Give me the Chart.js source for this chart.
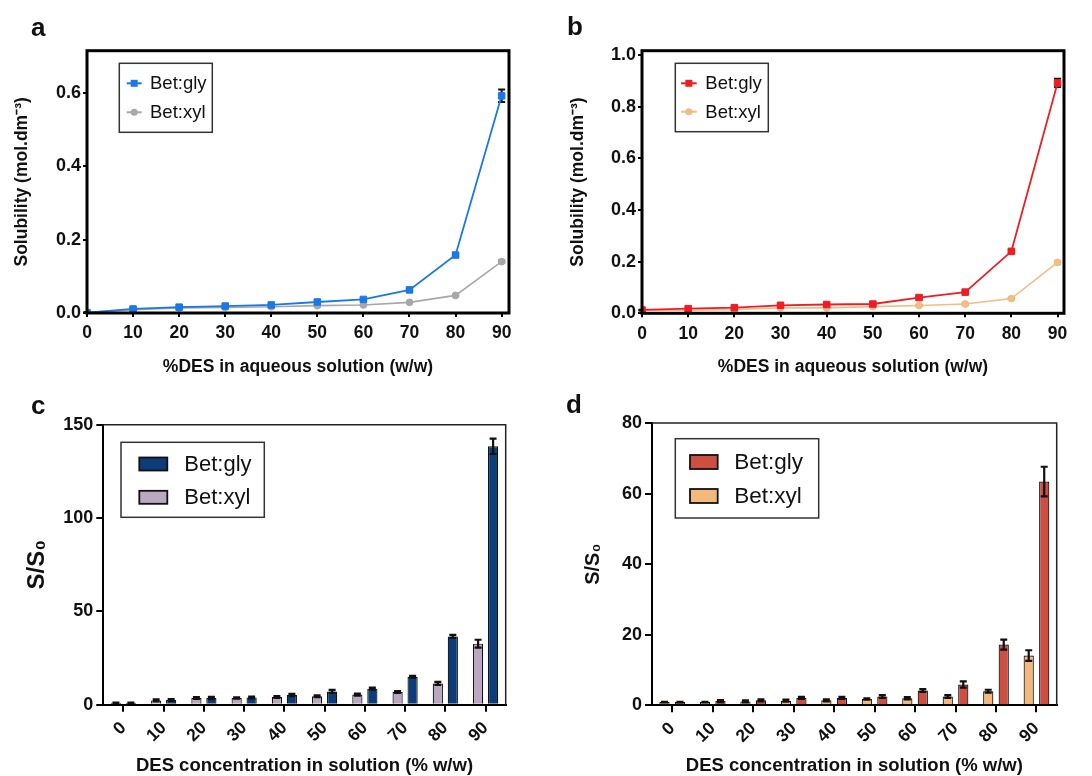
<!DOCTYPE html>
<html>
<head>
<meta charset="utf-8">
<script src="https://cdn.jsdelivr.net/npm/chart.js@4.4.1/dist/chart.umd.min.js"></script>
<style>
  html,body{margin:0;padding:0;background:#fff;}
  #wrap{position:relative;width:1092px;height:776px;overflow:hidden;background:#fff;}
  canvas{position:absolute;}
  .lbl{position:absolute;font-family:'Liberation Sans',Arial,sans-serif;font-weight:bold;font-size:26px;color:#111;line-height:1;}
</style>
</head>
<body>
<div id="wrap">
  <canvas id="ca" width="546" height="388" style="left:0;top:0"></canvas>
  <canvas id="cb" width="546" height="388" style="left:546px;top:0"></canvas>
  <canvas id="cc" width="546" height="388" style="left:0;top:388px"></canvas>
  <canvas id="cd" width="546" height="388" style="left:546px;top:388px"></canvas>
  <div class="lbl" style="left:31px;top:14px">a</div>
  <div class="lbl" style="left:567px;top:13px">b</div>
  <div class="lbl" style="left:31px;top:392px">c</div>
  <div class="lbl" style="left:566px;top:391px">d</div>
</div>
<script>
// ---------------- DATA ----------------
const desPct = [0, 10, 20, 30, 40, 50, 60, 70, 80, 90];
const catLabels = ['0', '10', '20', '30', '40', '50', '60', '70', '80', '90'];
const seriesNames = ['Bet:gly', 'Bet:xyl'];

// Panel a : solubility (mol.dm-3)
const solGlyA    = [0.001, 0.011, 0.016, 0.019, 0.022, 0.030, 0.037, 0.063, 0.158, 0.592];
const solGlyAErr = [0.001, 0.001, 0.001, 0.001, 0.001, 0.001, 0.002, 0.003, 0.004, 0.017];
const solXylA    = [0.001, 0.009, 0.014, 0.015, 0.017, 0.020, 0.022, 0.029, 0.048, 0.140];
const solXylAErr = [0.001, 0.001, 0.001, 0.001, 0.001, 0.001, 0.001, 0.001, 0.002, 0.003];
const yTicksA = [0, 0.2, 0.4, 0.6];

// Panel b : solubility (mol.dm-3)
const solGlyB    = [0.013, 0.018, 0.022, 0.031, 0.034, 0.036, 0.061, 0.082, 0.240, 0.892];
const solGlyBErr = [0.001, 0.001, 0.001, 0.002, 0.002, 0.002, 0.003, 0.003, 0.005, 0.016];
const solXylB    = [0.012, 0.012, 0.015, 0.021, 0.021, 0.026, 0.030, 0.036, 0.057, 0.197];
const solXylBErr = [0.001, 0.001, 0.001, 0.001, 0.001, 0.001, 0.001, 0.002, 0.002, 0.004];
const yTicksB = [0, 0.2, 0.4, 0.6, 0.8, 1.0];
const xTicksLine = [0, 10, 20, 30, 40, 50, 60, 70, 80, 90];

// Panel c : S/S0
const ratioXylC    = [1.0, 2.3, 3.6, 3.6, 4.1, 4.5, 5.4, 6.8, 11.4, 32.7];
const ratioXylCErr = [0.1, 0.5, 0.5, 0.4, 0.5, 0.5, 0.5, 0.5, 0.8, 2.1];
const ratioGlyC    = [1.0, 2.5, 3.6, 3.9, 5.2, 7.1, 8.6, 15.0, 36.6, 138.4];
const ratioGlyCErr = [0.1, 0.5, 0.6, 0.5, 0.6, 0.8, 0.6, 0.5, 0.8, 4.1];
const yTicksC = [0, 50, 100, 150];

// Panel d : S/S0
const ratioXylD    = [0.9, 0.9, 1.1, 1.3, 1.4, 1.8, 2.0, 2.5, 4.0, 14.1];
const ratioXylDErr = [0.05, 0.05, 0.3, 0.3, 0.3, 0.2, 0.3, 0.4, 0.4, 1.5];
const ratioGlyD    = [0.9, 1.2, 1.4, 2.1, 2.1, 2.5, 4.2, 5.9, 17.2, 63.4];
const ratioGlyDErr = [0.05, 0.3, 0.3, 0.3, 0.3, 0.4, 0.4, 0.9, 1.4, 4.2];
const yTicksD = [0, 20, 40, 60, 80];

// ---------------- PLUGINS ----------------
const FONT = "'Liberation Sans', Arial, Helvetica, sans-serif";
Chart.defaults.font.family = FONT;
Chart.defaults.color = '#111';

function drawErrors(chart, o) {
  const ctx = chart.ctx;
  const ys = chart.scales.y;
  ctx.save();
  ctx.strokeStyle = o.color || '#111';
  ctx.lineWidth = o.width || 2;
  chart.data.datasets.forEach((ds, i) => {
    if (!ds.errors) return;
    const meta = chart.getDatasetMeta(i);
    meta.data.forEach((el, j) => {
      const raw = ds.data[j];
      const v = (typeof raw === 'object') ? raw.y : raw;
      const e = ds.errors[j];
      if (!e) return;
      const x = el.x;
      const y1 = ys.getPixelForValue(v + e);
      const y2 = ys.getPixelForValue(v - e);
      const c = o.cap || 3.5;
      ctx.beginPath();
      ctx.moveTo(x, y1); ctx.lineTo(x, y2);
      ctx.moveTo(x - c, y1); ctx.lineTo(x + c, y1);
      ctx.moveTo(x - c, y2); ctx.lineTo(x + c, y2);
      ctx.stroke();
    });
  });
  ctx.restore();
}
const errorBars = {
  id: 'errorBars',
  beforeDatasetsDraw(chart, a, o) { if (o.phase === 'before') drawErrors(chart, o); },
  afterDatasetsDraw(chart, a, o) { if (o.phase === 'after') drawErrors(chart, o); }
};

const frame = {
  id: 'frame',
  afterDatasetsDraw(chart, a, o) {
    const {left, right, top, bottom} = chart.chartArea;
    const ctx = chart.ctx;
    ctx.save();
    ctx.strokeStyle = o.color || '#000';
    ctx.lineWidth = o.width;
    if (o.full) {
      ctx.strokeRect(left, top, right - left, bottom - top);
    } else {
      ctx.beginPath();
      ctx.moveTo(left, top); ctx.lineTo(right, top); ctx.lineTo(right, bottom);
      ctx.stroke();
    }
    ctx.restore();
  }
};

const boxLegend = {
  id: 'boxLegend',
  afterDraw(chart, a, o) {
    const ctx = chart.ctx;
    ctx.save();
    ctx.fillStyle = '#fff';
    ctx.fillRect(o.x, o.y, o.w, o.h);
    ctx.lineWidth = 1.5;
    ctx.strokeStyle = '#333';
    ctx.strokeRect(o.x, o.y, o.w, o.h);
    o.items.forEach(it => {
      const ds = chart.data.datasets[it.ds];
      if (o.kind === 'line') {
        ctx.strokeStyle = ds.borderColor;
        ctx.lineWidth = 2;
        ctx.beginPath();
        ctx.moveTo(o.sx0, it.y); ctx.lineTo(o.sx1, it.y);
        ctx.stroke();
        const cx = (o.sx0 + o.sx1) / 2;
        ctx.fillStyle = ds.pointBackgroundColor;
        if (ds.pointStyle === 'rect') {
          ctx.fillRect(cx - 3.5, it.y - 3.5, 7, 7);
        } else {
          ctx.beginPath(); ctx.arc(cx, it.y, 3.5, 0, Math.PI * 2); ctx.fill();
        }
      } else {
        ctx.fillStyle = ds.backgroundColor;
        ctx.fillRect(o.sx0, it.y - o.sh / 2, o.sx1 - o.sx0, o.sh);
        ctx.strokeStyle = '#111';
        ctx.lineWidth = 1.8;
        ctx.strokeRect(o.sx0, it.y - o.sh / 2, o.sx1 - o.sx0, o.sh);
      }
      ctx.fillStyle = '#111';
      ctx.font = o.fontSize + 'px ' + FONT;
      ctx.textBaseline = 'middle';
      ctx.textAlign = 'left';
      ctx.fillText(ds.label, o.tx, it.y + 1);
    });
    ctx.restore();
  }
};
Chart.register(errorBars, frame, boxLegend);

// ---------------- BUILDERS ----------------
function lineChart(id, cfg) {
  const pts = arr => desPct.map((x, i) => ({x: x, y: arr[i]}));
  return new Chart(document.getElementById(id), {
    type: 'line',
    data: {
      datasets: [
        {label: seriesNames[0], data: pts(cfg.gly), errors: cfg.glyErr, borderColor: cfg.c1,
         pointBackgroundColor: cfg.c1, pointBorderColor: cfg.c1, backgroundColor: cfg.c1,
         pointStyle: 'rect', pointRadius: 4.6, borderWidth: 1.8, pointBorderWidth: 1, tension: 0},
        {label: seriesNames[1], data: pts(cfg.xyl), errors: cfg.xylErr, borderColor: cfg.c2,
         pointBackgroundColor: cfg.c2, pointBorderColor: cfg.c2, backgroundColor: cfg.c2,
         pointStyle: 'circle', pointRadius: 3.4, borderWidth: 1.6, pointBorderWidth: 1, tension: 0}
      ]
    },
    options: {
      responsive: false, animation: false, devicePixelRatio: 1,
      layout: {padding: {left: 0, top: cfg.top, right: cfg.right, bottom: 0}},
      plugins: {
        legend: {display: false}, tooltip: {enabled: false},
        errorBars: {phase: 'before', cap: 3.5, width: 2},
        frame: {full: true, width: 3, color: '#000'},
        boxLegend: cfg.legend
      },
      scales: {
        x: {
          type: 'linear', min: 0, max: cfg.xmax,
          afterBuildTicks: s => { s.ticks = xTicksLine.map(v => ({value: v})); },
          afterFit: s => { s.height = cfg.xh; },
          grid: {drawOnChartArea: false, drawTicks: true, tickLength: 4, color: '#000', lineWidth: 2},
          border: {display: false},
          ticks: {font: {size: 17.5, weight: 'bold'}, color: '#111', padding: 6, maxRotation: 0},
          title: {display: true, text: '%DES in aqueous solution (w/w)', font: {size: 17.5, weight: 'bold'},
                  color: '#111', padding: {top: 10, bottom: 10}}
        },
        y: {
          min: 0, max: cfg.ymax,
          afterBuildTicks: s => { s.ticks = cfg.yTicks.map(v => ({value: v})); },
          afterFit: s => { s.width = cfg.yw; },
          grid: {drawOnChartArea: false, drawTicks: true, tickLength: 4, color: '#000', lineWidth: 2},
          border: {display: false},
          ticks: {font: {size: 18, weight: 'bold'}, color: '#111', padding: 2, callback: v => Number(v).toFixed(1)},
          title: {display: true, text: 'Solubility (mol.dm\u207B\u00B3)', font: {size: 17.5, weight: 'bold'},
                  color: '#111', padding: {top: cfg.ytp, bottom: 0}}
        }
      }
    }
  });
}

function barChart(id, cfg) {
  return new Chart(document.getElementById(id), {
    type: 'bar',
    data: {
      labels: catLabels,
      datasets: [
        {label: seriesNames[1], data: cfg.xyl, errors: cfg.xylErr, backgroundColor: cfg.c2,
         borderColor: '#111', borderWidth: 1.2, categoryPercentage: cfg.cp, barPercentage: cfg.bp},
        {label: seriesNames[0], data: cfg.gly, errors: cfg.glyErr, backgroundColor: cfg.c1,
         borderColor: '#111', borderWidth: 1.2, categoryPercentage: cfg.cp, barPercentage: cfg.bp}
      ]
    },
    options: {
      responsive: false, animation: false, devicePixelRatio: 1,
      layout: {padding: {left: 0, top: cfg.top, right: cfg.right, bottom: 0}},
      plugins: {
        legend: {display: false}, tooltip: {enabled: false},
        errorBars: {phase: 'after', cap: 3.5, width: 2.2},
        frame: {full: false, width: 1.5, color: '#222'},
        boxLegend: cfg.legend
      },
      scales: {
        x: {
          type: 'category', offset: true,
          afterFit: s => { s.height = cfg.xh; },
          grid: {offset: false, drawOnChartArea: false, drawTicks: true, tickLength: 7, color: '#000', lineWidth: 2},
          border: {display: true, width: 2, color: '#000'},
          ticks: {font: {size: 17.5, weight: 'bold'}, color: '#111', padding: 6, minRotation: 45, maxRotation: 45},
          title: {display: true, text: 'DES concentration in solution (% w/w)', font: {size: 18.5, weight: 'bold', lineHeight: 1.0},
                  color: '#111', padding: {top: 0, bottom: 1}}
        },
        y: {
          min: 0, max: cfg.ymax,
          afterBuildTicks: s => { s.ticks = cfg.yTicks.map(v => ({value: v})); },
          afterFit: s => { s.width = cfg.yw; },
          grid: {drawOnChartArea: false, drawTicks: true, tickLength: 7, color: '#000', lineWidth: 2},
          border: {display: true, width: 2, color: '#000'},
          ticks: {font: {size: 18, weight: 'bold'}, color: '#111', padding: 3},
          title: {display: true, text: 'S/S\u2080', font: {size: cfg.ytfs, weight: 'bold'},
                  color: '#111', padding: {top: cfg.ytp, bottom: 0}}
        }
      }
    }
  });
}

// ---------------- CHARTS ----------------
lineChart('ca', {
  gly: solGlyA, glyErr: solGlyAErr, xyl: solXylA, xylErr: solXylAErr,
  c1: 'rgb(26,120,232)', c2: 'rgb(168,168,168)',
  xmax: 91.6, ymax: 0.715, yTicks: yTicksA,
  top: 50.7, right: 37, xh: 75, yw: 87, ytp: 12,
  legend: {kind: 'line', x: 119.3, y: 63.3, w: 93, h: 69, sx0: 126.7, sx1: 141.7, tx: 150, fontSize: 18.5,
           items: [{ds: 0, y: 83.3}, {ds: 1, y: 112.3}]}
});
lineChart('cb', {
  gly: solGlyB, glyErr: solGlyBErr, xyl: solXylB, xylErr: solXylBErr,
  c1: 'rgb(240,28,36)', c2: 'rgb(244,188,132)',
  xmax: 91.4, ymax: 1.017, yTicks: yTicksB,
  top: 50.7, right: 28, xh: 74.7, yw: 96, ytp: 22,
  legend: {kind: 'line', x: 129.3, y: 63.3, w: 93, h: 68.4, sx0: 135, sx1: 150.7, tx: 159.3, fontSize: 18.5,
           items: [{ds: 0, y: 83.3}, {ds: 1, y: 111.7}]}
});
barChart('cc', {
  gly: ratioGlyC, glyErr: ratioGlyCErr, xyl: ratioXylC, xylErr: ratioXylCErr,
  c1: 'rgb(12,61,122)', c2: 'rgb(186,168,192)',
  ymax: 150, yTicks: yTicksC, cp: 0.745, bp: 0.68,
  top: 36.7, right: 40.3, xh: 71.3, yw: 103.3, ytp: 23, ytfs: 24,
  legend: {kind: 'bar', x: 121, y: 54.3, w: 143.3, h: 75, sx0: 139.3, sx1: 167.3, sh: 13, tx: 184.3, fontSize: 22,
           items: [{ds: 1, y: 76}, {ds: 0, y: 109.3}]}
});
barChart('cd', {
  gly: ratioGlyD, glyErr: ratioGlyDErr, xyl: ratioXylD, xylErr: ratioXylDErr,
  c1: 'rgb(206,78,66)', c2: 'rgb(243,184,125)',
  ymax: 80, yTicks: yTicksD, cp: 0.766, bp: 0.66,
  top: 35, right: 35.3, xh: 70.7, yw: 106, ytp: 35, ytfs: 20,
  legend: {kind: 'bar', x: 129.3, y: 50.7, w: 143.4, h: 79.3, sx0: 144, sx1: 171.7, sh: 14, tx: 188.3, fontSize: 22.5,
           items: [{ds: 1, y: 74}, {ds: 0, y: 108}]}
});
</script>
</body>
</html>
